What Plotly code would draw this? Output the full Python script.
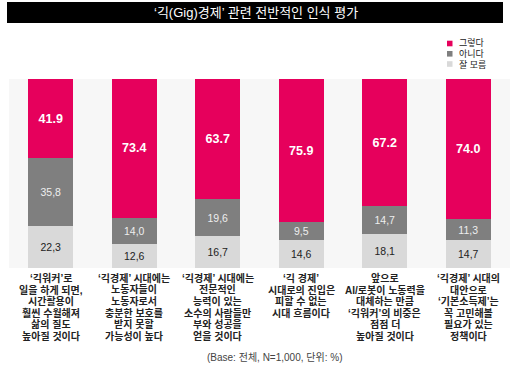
import plotly.graph_objects as go

category_lines = [
    ["‘긱워커’로", "일을 하게 되면,", "시간활용이", "훨씬 수월해져", "삶의 질도", "높아질 것이다"],
    ["‘긱경제’ 시대에는", "노동자들이", "노동자로서", "충분한 보호를", "받지 못할", "가능성이 높다"],
    ["‘긱경제’ 시대에는", "전문적인", "능력이 있는", "소수의 사람들만", "부와 성공을", "얻을 것이다"],
    ["‘긱 경제’", "시대로의 진입은", "피할 수 없는", "시대 흐름이다"],
    ["앞으로", "AI/로봇이 노동력을", "대체하는 만큼", "‘긱워커’의 비중은", "점점 더", "높아질 것이다"],
    ["‘긱경제’ 시대의", "대안으로", "‘기본소득제’는", "꼭 고민해볼", "필요가 있는", "정책이다"],
]
dont_know = [22.3, 12.6, 16.7, 14.6, 18.1, 14.7]
no = [35.8, 14.0, 19.6, 9.5, 14.7, 11.3]
yes = [41.9, 73.4, 63.7, 75.9, 67.2, 74.0]

series_names = ["그렇다", "아니다", "잘 모름"]
colors = {"그렇다": "#E6005C", "아니다": "#7F7F7F", "잘 모름": "#D9D9D9"}
title_text = "‘긱(Gig)경제’ 관련 전반적인 인식 평가"
note_text = "(Base: 전체, N=1,000, 단위: %)"

FONT = "Liberation Sans, Noto Sans CJK KR"
x_idx = list(range(len(category_lines)))

# plot area in pixels (for converting layout positions to paper coords)
PT, PB, PL, PR = 79, 268, 9, 510
def py2paper(py):
    return (PB - py) / (PB - PT)
def px2paper(px):
    return (px - PL) / (PR - PL)

fig = go.Figure()
fig.add_trace(go.Bar(
    x=x_idx, y=dont_know, name="잘 모름", marker_color=colors["잘 모름"],
    marker_line_width=0,
    text=[f"{v:.1f}".replace(".", ",") for v in dont_know],
    textposition="inside", insidetextanchor="middle", textangle=0,
    textfont=dict(family=FONT, size=10.5, color="#222222"),
))
fig.add_trace(go.Bar(
    x=x_idx, y=no, name="아니다", marker_color=colors["아니다"],
    marker_line_width=0,
    text=[f"{v:.1f}".replace(".", ",") for v in no],
    textposition="inside", insidetextanchor="middle", textangle=0,
    textfont=dict(family=FONT, size=10.5, color="#EEEEEE"),
))
fig.add_trace(go.Bar(
    x=x_idx, y=yes, name="그렇다", marker_color=colors["그렇다"],
    marker_line_width=0,
    text=[f"<b>{v:.1f}</b>" for v in yes],
    textposition="inside", insidetextanchor="middle", textangle=0,
    textfont=dict(family=FONT, size=12.5, color="#FFFFFF"),
))
fig.update_traces(constraintext="none", hoverinfo="skip")

# category labels (one annotation per line, tight line spacing)
for i, lines in enumerate(category_lines):
    for j, line in enumerate(lines):
        fig.add_annotation(xref="x", yref="paper", x=i, y=py2paper(278 + 11.6 * j),
                           text=f"<b>{line}</b>", showarrow=False,
                           xanchor="center", yanchor="middle",
                           font=dict(family=FONT, size=10, color="#222222"))

# title bar
fig.add_shape(type="rect", xref="paper", yref="paper",
              x0=px2paper(7), x1=px2paper(503), y0=py2paper(23), y1=py2paper(2),
              fillcolor="#000000", line_width=0, layer="above")
fig.add_annotation(xref="paper", yref="paper", x=px2paper(256), y=py2paper(12.5),
                   text=title_text, showarrow=False,
                   font=dict(family=FONT, size=13, color="#FFFFFF"),
                   xanchor="center", yanchor="middle")

# legend (manual, compact)
leg_y = [43.5, 53.8, 64]
for name, py in zip(series_names, leg_y):
    fig.add_shape(type="rect", xref="paper", yref="paper",
                  x0=px2paper(447), x1=px2paper(452.5),
                  y0=py2paper(py + 2.8), y1=py2paper(py - 2.8),
                  fillcolor=colors[name], line_width=0)
    fig.add_annotation(xref="paper", yref="paper", x=px2paper(456.5), y=py2paper(py),
                       text=name, showarrow=False, xanchor="left", yanchor="middle",
                       font=dict(family=FONT, size=9, color="#222222"))

# base note
fig.add_annotation(xref="paper", yref="paper", x=px2paper(274), y=py2paper(357),
                   text=note_text, showarrow=False, xanchor="center", yanchor="middle",
                   font=dict(family=FONT, size=10, color="#444444"))

fig.update_layout(
    barmode="stack",
    bargap=0.46,
    width=520, height=373,
    margin=dict(l=PL, r=520 - PR, t=PT, b=373 - PB),
    paper_bgcolor="#FFFFFF",
    plot_bgcolor="#F7F7F7",
    showlegend=False,
    hovermode=False,
    font=dict(family=FONT),
    xaxis=dict(
        tickmode="array", tickvals=x_idx, showticklabels=False,
        showgrid=False, zeroline=False, showline=False, ticks="",
        range=[-0.5, 5.5], automargin=False,
    ),
    yaxis=dict(visible=False, range=[0, 100], showgrid=False, zeroline=False,
               automargin=False),
)

fig.write_html("out.html", config={"displayModeBar": False},
               post_script="document.body.style.margin='0';")
